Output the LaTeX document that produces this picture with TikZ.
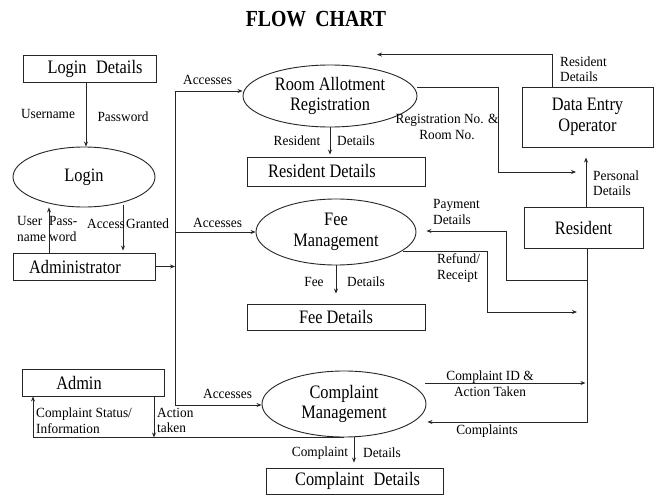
\documentclass[tikz,border=0pt]{standalone}
\usepackage{fontspec}
\setmainfont{Liberation Serif}
\newfontfamily\bigf[FakeStretch=0.86]{Liberation Serif}
\newfontfamily\smf[FakeStretch=0.95]{Liberation Serif}
\usetikzlibrary{shapes.geometric,arrows.meta,calc}
\begin{document}
\begin{tikzpicture}[x=1pt,y=-1pt,
  ln/.style={line width=0.9pt, draw=black!85},
  arr/.style={ln,-{Stealth[length=5pt,width=4pt]}},
  box/.style={draw=black!85,line width=0.9pt,rectangle,inner sep=0pt,font=\bigf\fontsize{19}{20.5}\selectfont,align=center},
  proc/.style={draw=black!85,line width=0.9pt,ellipse,inner sep=0pt,font=\bigf\fontsize{19}{20.5}\selectfont,align=center},
  lbl/.style={font=\smf\fontsize{14}{15.5}\selectfont,inner sep=0pt,align=center},
  lbll/.style={lbl,align=left,anchor=west}]
\useasboundingbox (0,0) rectangle (659,495);
\fill[white] (0,0) rectangle (659,495);

% title
\node[font=\bigf\bfseries\fontsize{23}{24}\selectfont] (title) at (316,19) {FLOW\hspace{0.4em}CHART};

% nodes
\node[box,minimum width=133pt,minimum height=27pt] (logdet) at (89.5,68.5) {Login\hspace{0.5em}Details\hspace*{-11pt}};
\node[proc,minimum width=142pt,minimum height=60pt] (login) at (84,177) {Login};
\node[box,minimum width=142pt,minimum height=27pt] (adm) at (84,266.5) {\hspace*{-18pt}Administrator};
\node[proc,minimum width=174pt,minimum height=62pt] (room) at (330,96) {Room Allotment\\Registration};
\node[box,minimum width=178pt,minimum height=29pt] (resdet) at (336,171.5) {\hspace*{-28pt}Resident Details};
\node[box,minimum width=131pt,minimum height=60pt] (deo) at (587.5,117) {Data Entry\\Operator};
\node[proc,minimum width=160pt,minimum height=66pt] (fee) at (336,232) {Fee\\Management};
\node[box,minimum width=119pt,minimum height=41pt] (res) at (583.5,227.5) {Resident};
\node[box,minimum width=178pt,minimum height=26pt] (feedet) at (336,317) {Fee Details};
\node[box,minimum width=142pt,minimum height=27pt] (admin) at (93,382.5) {\hspace*{-28pt}Admin};
\node[proc,minimum width=164pt,minimum height=66pt] (comp) at (344,404) {Complaint\\Management};
\node[box,minimum width=177pt,minimum height=26pt] (compdet) at (354.5,481) {Complaint\hspace{0.5em}Details\hspace*{-6pt}};

% bus coordinates
\coordinate (b1) at (175,91);
\coordinate (b2) at (175,232);
\coordinate (b3) at (175,405);
\coordinate (regend) at (576,172);
\coordinate (refend) at (577,312);

% connectors
\draw[arr] ([xshift=-3.5pt]logdet.south) -- ([xshift=-3.5pt]logdet.south |- login.north);
\draw[arr] ([xshift=-35pt]adm.north) -- ([xshift=-35pt]adm.north |- login.south);
\draw[arr] ([xshift=39pt,yshift=2pt]login.south) -- ([xshift=39pt,yshift=2pt]adm.north);
\draw[ln] (b1) -- (b3);
\draw[arr] (b1) -- (b1 -| room.west);
\draw[arr] (b2) -- (fee.west);
\draw[arr] (b3) -- (b3 -| comp.west);
\draw[arr] (adm.east) -- (adm.east -| b1);
\draw[arr] ([xshift=-35.5pt]deo.north) |- ([xshift=47pt,yshift=10pt]room.north);
\draw[arr] ([yshift=9pt]room.east) -- ++(81,0) |- (regend);
\draw[arr] ([xshift=2.5pt]res.north) -- ++(0,-49);
\draw[arr] (room.south) -- ([yshift=2pt]resdet.north -| room.south);
\draw[arr] (fee.south) -- ([yshift=10pt]feedet.north);
\draw[arr] ([xshift=3.5pt]res.south) |- ([xshift=1pt,yshift=-18pt]comp.east);
\draw[arr] ([xshift=3.5pt,yshift=-32pt]res.south) -- ++(-81,0) |- ([xshift=10pt,yshift=1pt]fee.east);
\draw[arr] ([xshift=67pt,yshift=-19pt]fee.center) -- ++(84,0) |- (refend);
\draw[arr] ([xshift=-1pt,yshift=21pt]comp.east) -- ++(160,0);
\draw[arr] (comp.south) -| ([xshift=-60pt]admin.south);
\draw[arr] ([xshift=61pt]admin.south) -- ++(0,41);
\draw[arr] ([xshift=10pt]comp.south) -- ([xshift=-0.5pt,yshift=5pt]compdet.north);

% labels
\node[lbl] (l1) at (48,114) {Username};
\node[lbl] (l2) at (123,117) {Password};
\node[lbll] (l3) at (17,229) {User\\name};
\node[lbll] (l4) at (49,229) {Pass-\\word};
\node[lbll] (l5) at (87,224) {Access};
\node[lbll] (l6) at (126,224) {Granted};
\node[lbll] (l7) at (183,80) {Accesses};
\node[lbll] (l8) at (193,223) {Accesses};
\node[lbll] (l9) at (203,394) {Accesses};
\node[lbl] (l10) at (297,141) {Resident};
\node[lbl] (l11) at (356,141) {Details};
\node[lbll] (l12) at (560,69) {Resident\\Details};
\node[lbl] (l13) at (447,127) {Registration No. \&\\Room No.};
\node[lbll] (l14) at (593,183) {Personal\\Details};
\node[lbll] (l15) at (433,212) {Payment\\Details};
\node[lbll] (l16) at (437,268) {Refund/\\Receipt};
\node[lbl] (l17) at (314,282) {Fee};
\node[lbl] (l18) at (366,282) {Details};
\node[lbl] (l19) at (490,383.5) {Complaint ID \&\\Action Taken};
\node[lbl] (l20) at (487,431) {Complaints};
\node[lbll] (l21) at (36,420.5) {Complaint Status/\\Information};
\node[lbll] (l22) at (157,420.5) {Action\\taken};
\node[lbl] (l23) at (320,453) {Complaint};
\node[lbl] (l24) at (382,453) {Details};
\end{tikzpicture}
\end{document}
